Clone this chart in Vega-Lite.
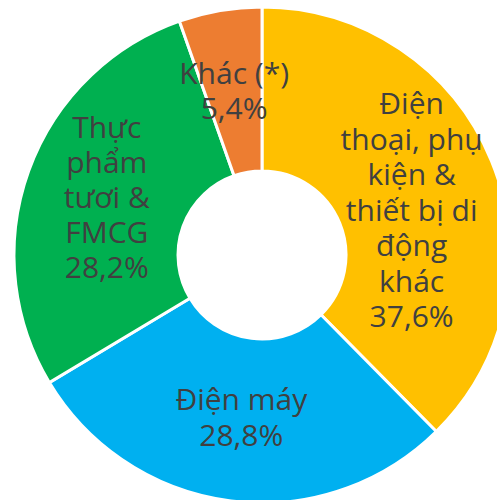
{
  "$schema": "https://vega.github.io/schema/vega-lite/v6.json",
  "width": 524,
  "height": 510,
  "padding": 0,
  "autosize": {"type": "none"},
  "background": "white",
  "view": {"stroke": null},
  "data": {
    "values": [
      {"category": "Điện thoại, phụ kiện & thiết bị di động khác", "label": "Điện\nthoại, phụ\nkiện &\nthiết bị di\nđộng\nkhác\n37,6%", "share": 37.6, "ord": 1},
      {"category": "Điện máy", "label": "Điện máy\n28,8%", "share": 28.8, "ord": 2},
      {"category": "Thực phẩm tươi & FMCG", "label": "Thực\nphẩm\ntươi &\nFMCG\n28,2%", "share": 28.2, "ord": 3},
      {"category": "Khác (*)", "label": "Khác (*)\n5,4%", "share": 5.4, "ord": 4}
    ]
  },
  "encoding": {
    "theta": {"field": "share", "type": "quantitative", "stack": true},
    "order": {"field": "ord", "type": "quantitative"}
  },
  "layer": [
    {
      "mark": {"type": "arc", "outerRadius": 248, "innerRadius": 84, "stroke": "white", "strokeWidth": 3},
      "encoding": {
        "color": {
          "field": "category",
          "type": "nominal",
          "scale": {
            "domain": ["Điện thoại, phụ kiện & thiết bị di động khác", "Điện máy", "Thực phẩm tươi & FMCG", "Khác (*)"],
            "range": ["#FFC000", "#00B0F0", "#00B050", "#ED7D31"]
          },
          "legend": null
        }
      }
    },
    {
      "mark": {"type": "text", "radius": 165, "dy": -17.5, "lineBreak": "\n", "fontSize": 30, "font": "Open Sans", "color": "#404040", "align": "center", "baseline": "middle", "lineHeight": 35.5},
      "encoding": {"text": {"condition": {"test": "datum.ord == 2 || datum.ord == 4", "field": "label"}, "value": ""}}
    },
    {
      "mark": {"type": "text", "radius": 165, "dy": -70, "lineBreak": "\n", "fontSize": 30, "font": "Open Sans", "color": "#404040", "align": "center", "baseline": "middle", "lineHeight": 35},
      "encoding": {"text": {"condition": {"test": "datum.ord == 3", "field": "label"}, "value": ""}}
    },
    {
      "mark": {"type": "text", "radius": 165, "dx": -3, "dy": -87, "lineBreak": "\n", "fontSize": 30, "font": "Open Sans", "color": "#404040", "align": "center", "baseline": "middle", "lineHeight": 35.5},
      "encoding": {"text": {"condition": {"test": "datum.ord == 1", "field": "label"}, "value": ""}}
    }
  ]
}
